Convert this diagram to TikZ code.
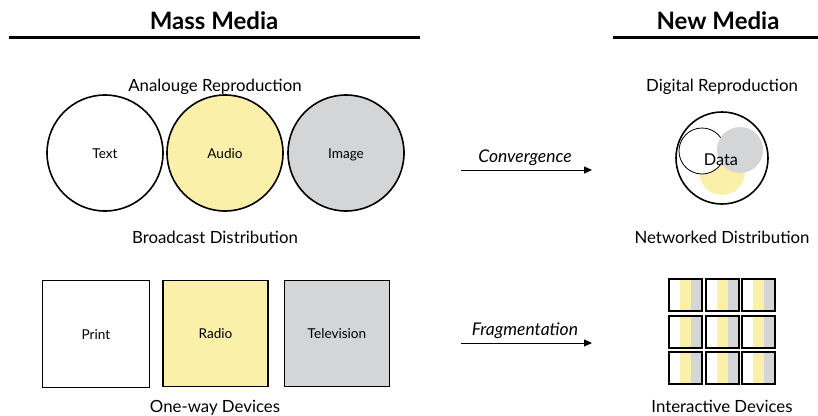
\documentclass[tikz,border=0pt]{standalone}
\usepackage{fontspec}
\setmainfont{Lato}
\usetikzlibrary{arrows.meta}
\definecolor{myyellow}{RGB}{251,240,170}
\definecolor{mygray}{RGB}{212,213,215}
\tikzset{
  lbl/.style={font=\fontsize{16.8}{18}\selectfont, inner sep=0pt, anchor=base},
  hdr/.style={font=\fontsize{24}{26}\selectfont\bfseries, inner sep=0pt, anchor=base},
  itm/.style={font=\fontsize{13.6}{15}\selectfont, inner sep=0pt, anchor=base},
  arrlbl/.style={font=\fontsize{17.5}{19}\selectfont\itshape, inner sep=0pt, anchor=base},
  circ/.style={circle, draw, line width=1.6pt, minimum size=116pt, inner sep=0pt},
  sq/.style={draw, line width=1.4pt, inner sep=0pt},
  arr/.style={line width=0.9pt, -{Triangle[length=8pt,width=7pt]}},
  cell/.style={draw, line width=1.1pt},
}
\begin{document}
\begin{tikzpicture}[x=1pt,y=-1pt]
\useasboundingbox (0,0) rectangle (818,415);
% headers
\node[hdr] (mm) at (214,29.5) {Mass Media};
\node[hdr] (nm) at (718,29.5) {New Media};
\draw[line width=3.5pt] (9,37.5) -- (420,37.5);
\draw[line width=3.5pt] (613,37.5) -- (818,37.5);
% left top
\node[lbl] (ar) at (215,91) {Analouge Reproduction};
\node[circ, fill=white] (text) at (105,153) {};
\node[itm] at ([yshift=-5pt]text.center) {Text};
\node[circ, fill=myyellow] (audio) at (225,153) {};
\node[itm] at ([yshift=-5pt]audio.center) {Audio};
\node[circ, fill=mygray] (image) at (346,153) {};
\node[itm] at ([yshift=-5pt]image.center) {Image};
\node[lbl] (bd) at (215,243) {Broadcast Distribution};
% left bottom
\node[sq, fill=white, minimum width=107pt, minimum height=107pt] (print) at (96,334) {};
\node[itm] at ([yshift=-5pt]print.center) {Print};
\node[sq, fill=myyellow, minimum width=105pt, minimum height=106pt] (radio) at (215.5,333.5) {};
\node[itm] at ([yshift=-5pt]radio.center) {Radio};
\node[sq, fill=mygray, minimum width=105pt, minimum height=106pt] (tv) at (337,333.5) {};
\node[itm] at ([yshift=-5pt]tv.center) {Television};
\node[lbl] (ow) at (215,412) {One-way Devices};
% arrows
\coordinate (c1) at (461,170);
\coordinate (c2) at (592,170);
\draw[arr] (c1) -- (c2);
\node[arrlbl] (conv) at (525,162) {Convergence};
\coordinate (f1) at (461,343);
\coordinate (f2) at (592,343);
\draw[arr] (f1) -- (f2);
\node[arrlbl] (frag) at (525,335) {Fragmentation};
% right top
\node[lbl] (dr) at (722,91) {Digital Reproduction};
\node[circle, draw, line width=1.6pt, minimum size=92pt, inner sep=0pt] (big) at (722,158) {};
\fill[myyellow] (722,172) circle (23);
\filldraw[fill=white, draw=black, line width=0.8pt] (702,151) circle (23);
\fill[mygray] (740,150) circle (23);
\node[font=\fontsize{16.3}{18}\selectfont, inner sep=0pt, anchor=base] (data) at (721,165) {Data};
\node[lbl] (nd) at (722,243) {Networked Distribution};
% grid
\foreach \i/\x in {0/669,1/706,2/742}{
  \foreach \j/\y in {0/279,1/316,2/352}{
    \fill[myyellow] (\x+11,\y) rectangle (\x+22,\y+32);
    \fill[mygray] (\x+22,\y) rectangle (\x+33,\y+32);
    \draw[cell] (\x,\y) rectangle (\x+33,\y+32);
  }
}
\node[lbl] (id) at (722,412) {Interactive Devices};
\end{tikzpicture}
\end{document}
